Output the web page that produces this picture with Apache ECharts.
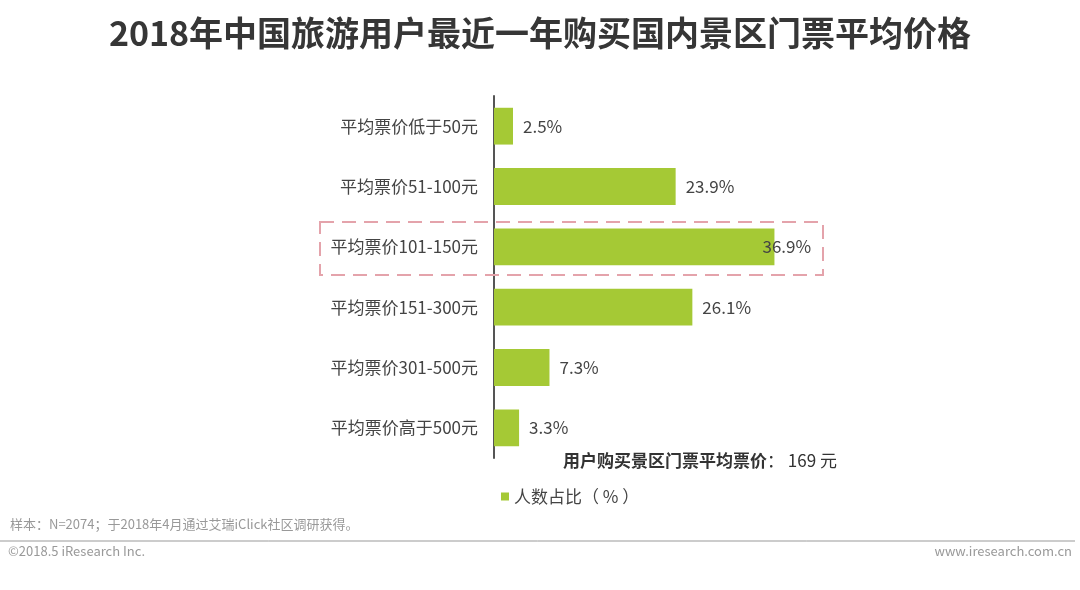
<!DOCTYPE html>
<html>
<head>
<meta charset="utf-8">
<script src="https://cdn.jsdelivr.net/npm/echarts@6/dist/echarts.min.js"></script>
<style>
  html, body { margin: 0; padding: 0; background: #fff; }
  #chart { width: 1080px; height: 590px; }
</style>
</head>
<body>
<div id="chart"></div>
<script>
// 票价区间
const categories = ['平均票价低于50元', '平均票价51-100元', '平均票价101-150元', '平均票价151-300元', '平均票价301-500元', '平均票价高于500元']
// 人数占比（%）
const shares = [2.5, 23.9, 36.9, 26.1, 7.3, 3.3]
const highlightIndex = 2
const seriesName = '人数占比（ % ）'

const font = '"Noto Sans CJK SC", "Noto Sans", sans-serif'
const barColor = '#a5c935'

const chart = echarts.init(document.getElementById('chart'))

const option = {
  backgroundColor: '#ffffff',
  animation: false,
  title: {
    text: '2018年中国旅游用户最近一年购买国内景区门票平均价格',
    left: 'center',
    top: 11,
    textStyle: {
      fontFamily: font,
      fontSize: 34,
      fontWeight: 'bold',
      color: '#363636'
    }
  },
  legend: {
    left: 496,
    top: 483,
    itemWidth: 8,
    itemHeight: 8,
    itemGap: 6,
    icon: 'rect',
    data: [seriesName],
    textStyle: { fontFamily: font, fontSize: 17, color: '#444', padding: [0, 0, 0, 0] }
  },
  grid: {
    left: 494,
    right: 206,
    top: 96,
    bottom: 132,
    containLabel: false
  },
  xAxis: {
    type: 'value',
    min: 0,
    max: 50,
    show: false
  },
  yAxis: {
    type: 'category',
    inverse: true,
    data: categories,
    axisLine: { show: true, lineStyle: { color: '#555', width: 2 } },
    axisTick: { show: false },
    axisLabel: {
      margin: 16,
      fontFamily: font,
      fontSize: 17,
      color: '#444'
    }
  },
  series: [{
    name: seriesName,
    type: 'bar',
    barWidth: '61%',
    itemStyle: { color: barColor },
    label: {
      show: true,
      position: 'right',
      distance: 10,
      fontFamily: font,
      fontSize: 17,
      color: '#444',
      formatter: '{c}%'
    },
    data: shares.map((v, i) => i === highlightIndex
      ? { value: v, label: { offset: [-22, 0] } }
      : v)
  }],
  graphic: [
    {
      type: 'rect',
      shape: { x: 320, y: 222, width: 503, height: 53 },
      style: { fill: 'none', stroke: '#e4a3ab', lineWidth: 2, lineDash: [14, 8] },
      z: 10
    },
    {
      type: 'text',
      left: 563,
      top: 452,
      style: {
        text: '{b|用户购买景区门票平均票价}{n|： 169 元}',
        rich: {
          b: { fontFamily: font, fontSize: 17, fontWeight: 'bold', fill: '#333' },
          n: { fontFamily: font, fontSize: 17, fill: '#333' }
        }
      }
    },
    {
      type: 'text',
      left: 10,
      top: 518,
      style: {
        text: '样本：N=2074；于2018年4月通过艾瑞iClick社区调研获得。',
        font: '13px ' + font,
        fill: '#999'
      }
    },
    {
      type: 'line',
      shape: { x1: 0, y1: 541, x2: 1075, y2: 541 },
      style: { stroke: '#999', lineWidth: 1 }
    },
    {
      type: 'text',
      left: 8,
      top: 545,
      style: {
        text: '©2018.5 iResearch Inc.',
        font: '13px ' + font,
        fill: '#999'
      }
    },
    {
      type: 'text',
      right: 8,
      top: 545,
      style: {
        text: 'www.iresearch.com.cn',
        font: '13px ' + font,
        fill: '#999'
      }
    }
  ]
}

chart.setOption(option)
</script>
</body>
</html>
